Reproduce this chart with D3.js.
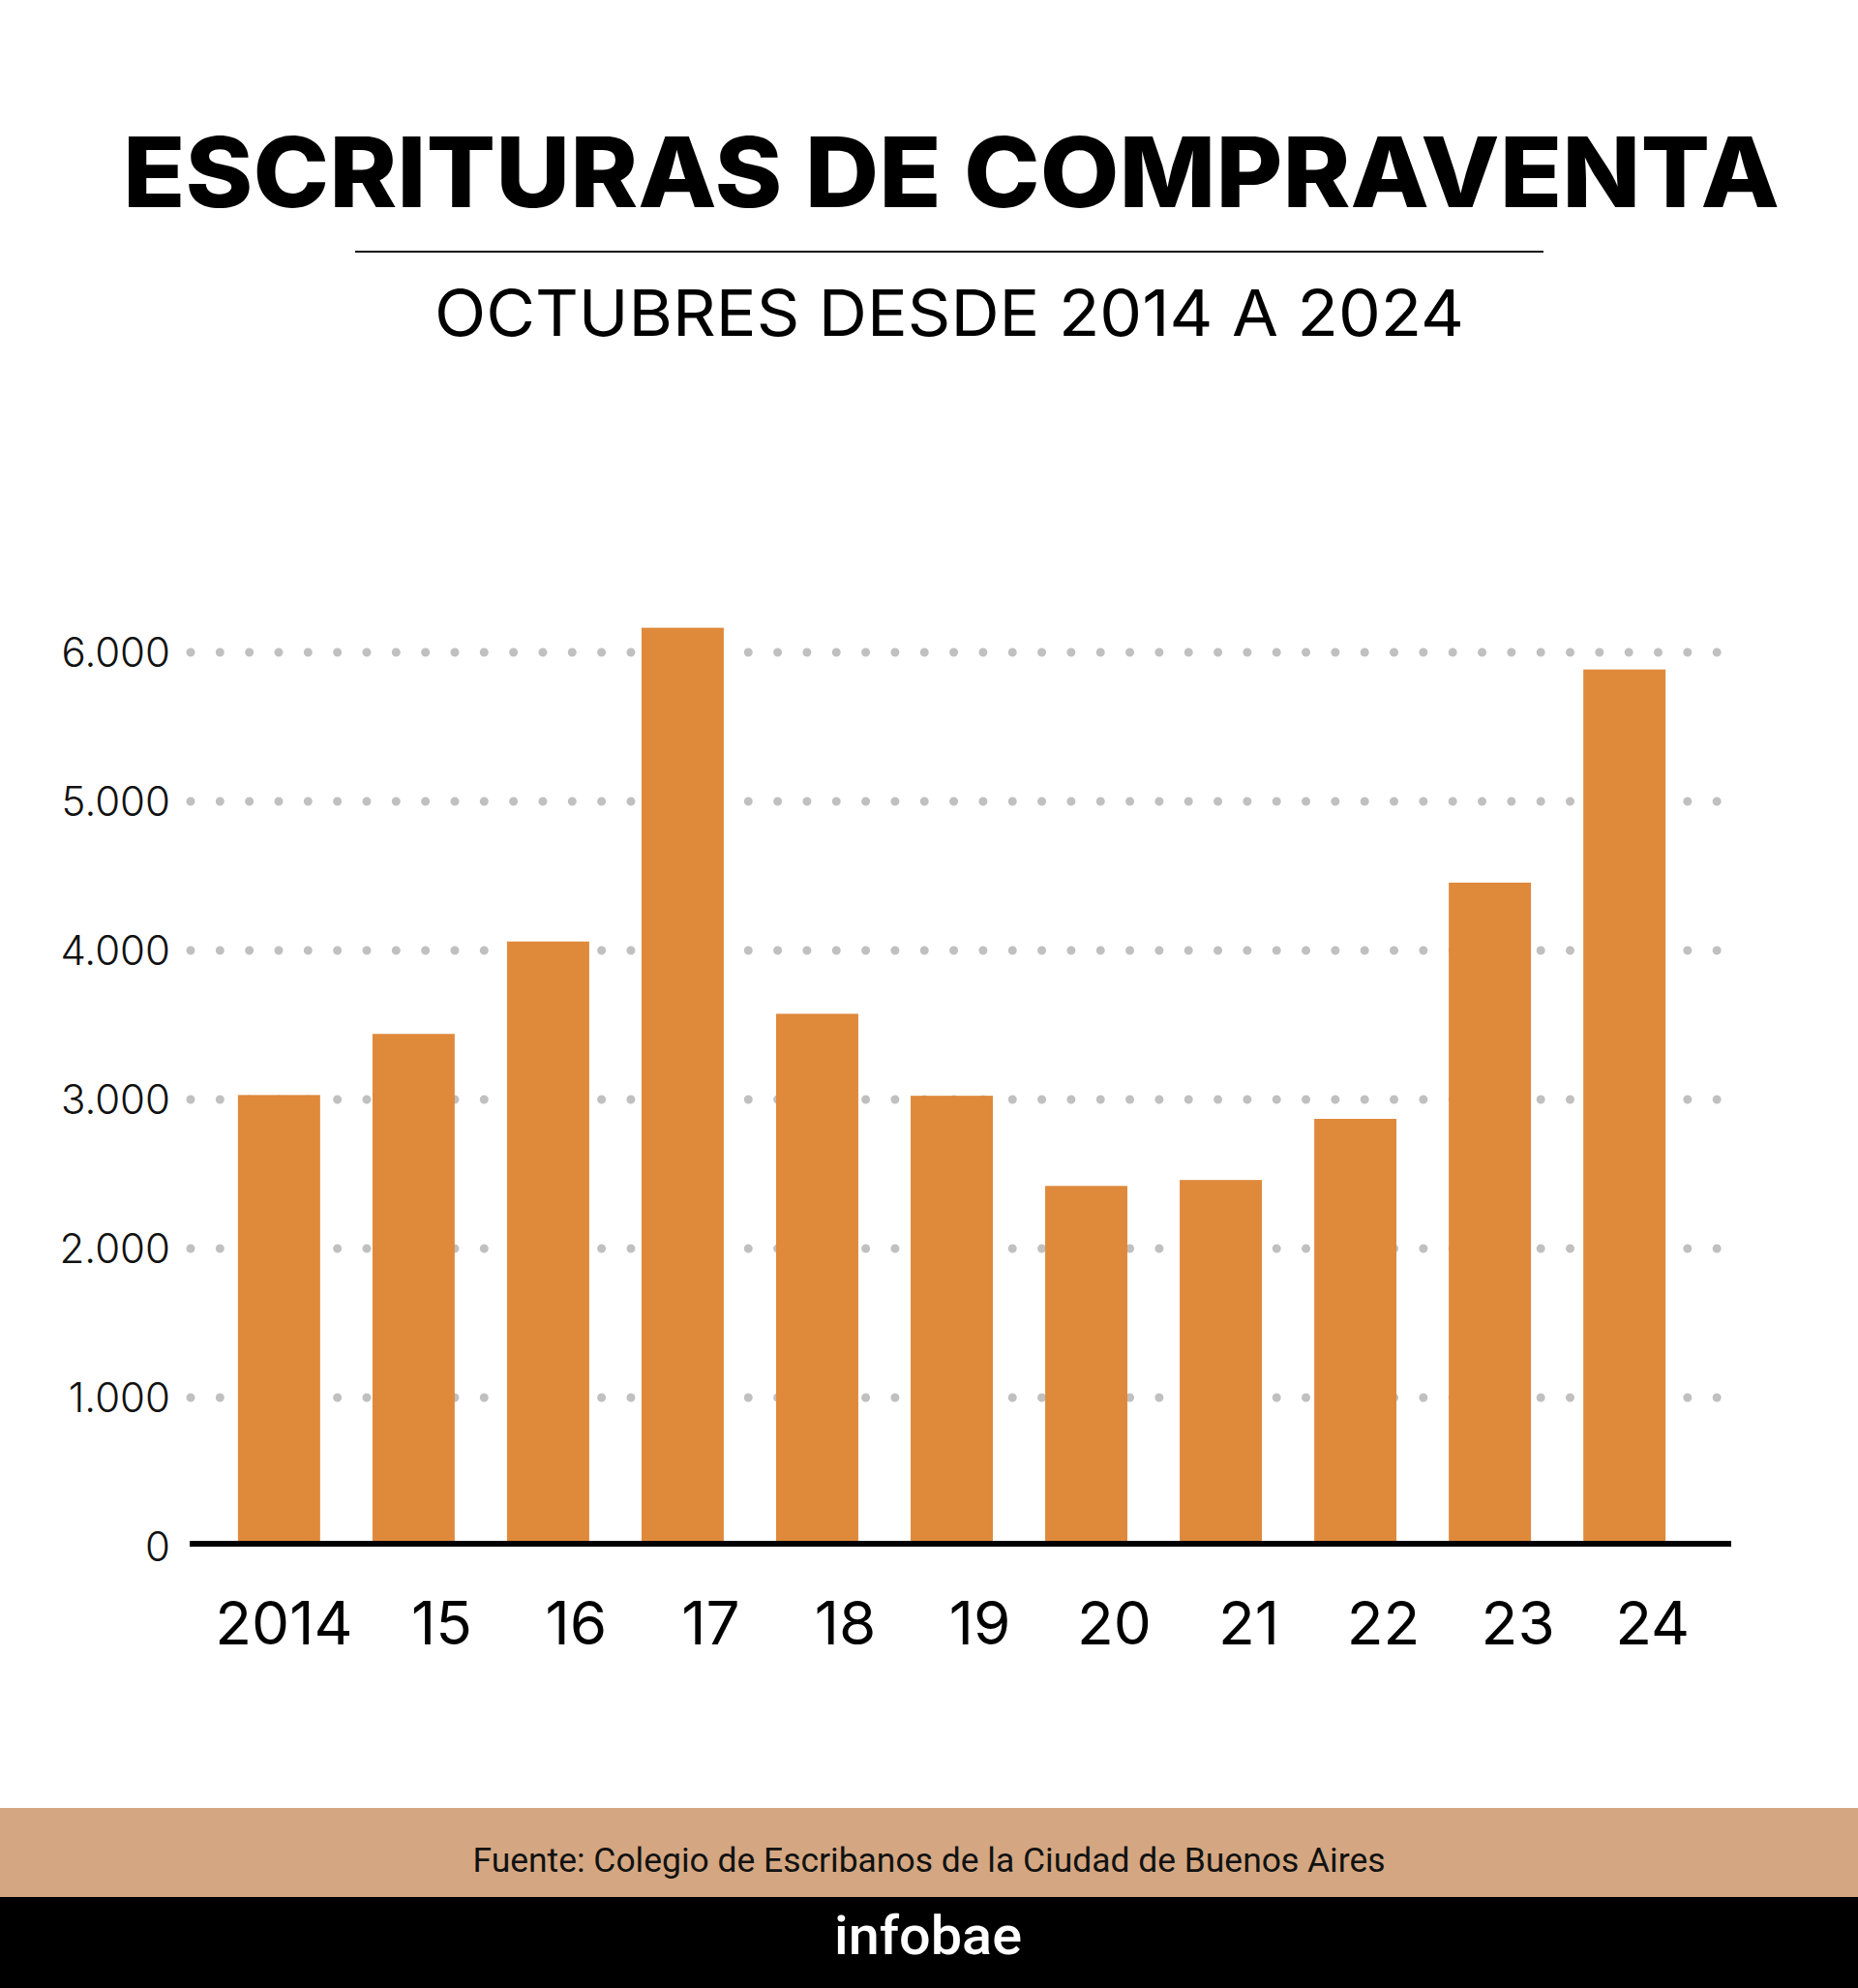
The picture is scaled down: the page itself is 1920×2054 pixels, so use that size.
<!DOCTYPE html>
<html>
<head>
<meta charset="utf-8">
<script src="https://cdn.jsdelivr.net/npm/d3@7"></script>
<style>
  html, body { margin: 0; padding: 0; background: #ffffff; }
  svg { display: block; }
</style>
</head>
<body>
<script>
// ---- data ----
const categories = ["2014", "15", "16", "17", "18", "19", "20", "21", "22", "23", "24"];
const values = [3030, 3440, 4060, 6165, 3575, 3025, 2420, 2460, 2870, 4455, 5885];
const yTicks = [0, 1000, 2000, 3000, 4000, 5000, 6000];
const yTickLabels = ["0", "1.000", "2.000", "3.000", "4.000", "5.000", "6.000"];
const title = "ESCRITURAS DE COMPRAVENTA";
const subtitle = "OCTUBRES DESDE 2014 A 2024";
const source = "Fuente: Colegio de Escribanos de la Ciudad de Buenos Aires";
const brand = "infobae";

// ---- layout ----
const W = 1920, H = 2054;
const svg = d3.select("body").append("svg").attr("width", W).attr("height", H);
svg.append("rect").attr("width", W).attr("height", H).attr("fill", "#ffffff");

// title
svg.append("text")
  .attr("x", 983).attr("y", 214)
  .attr("text-anchor", "middle")
  .attr("font-family", "Inter, 'Noto Sans', sans-serif")
  .attr("font-weight", 800)
  .attr("font-size", 100)
  .attr("textLength", 1712)
  .attr("lengthAdjust", "spacingAndGlyphs")
  .attr("fill", "#000")
  .text(title);

svg.append("line")
  .attr("x1", 367).attr("x2", 1595).attr("y1", 260).attr("y2", 260)
  .attr("stroke", "#111").attr("stroke-width", 2);

svg.append("text")
  .attr("x", 981).attr("y", 347)
  .attr("text-anchor", "middle")
  .attr("font-family", "Inter, 'Noto Sans', sans-serif")
  .attr("font-weight", 400)
  .attr("font-size", 66)
  .attr("textLength", 1064)
  .attr("lengthAdjust", "spacingAndGlyphs")
  .attr("fill", "#000")
  .text(subtitle);

// scales
const x = d3.scaleBand()
  .domain(categories)
  .range([200, 1767])
  .paddingInner(0.389)
  .paddingOuter(0.33);

const y = d3.scaleLinear().domain([0, 6000]).range([1598, 674]);

// dotted gridlines
const grid = svg.append("g");
grid.selectAll("line")
  .data(yTicks.filter(d => d > 0))
  .join("line")
  .attr("x1", 197).attr("x2", 1780)
  .attr("y1", d => y(d)).attr("y2", d => y(d))
  .attr("stroke", "#c0c0c0")
  .attr("stroke-width", 9)
  .attr("stroke-linecap", "round")
  .attr("stroke-dasharray", "0 30.33");

// y labels
const yAxis = d3.axisLeft(y)
  .tickValues(yTicks)
  .tickFormat((d, i) => yTickLabels[i])
  .tickSize(0)
  .tickPadding(0);
const yg = svg.append("g").attr("transform", "translate(176,0)").call(yAxis);
yg.select(".domain").remove();
yg.selectAll("text")
  .attr("font-family", "Inter, 'Noto Sans', sans-serif")
  .attr("font-weight", 300)
  .attr("font-size", 42)
  .attr("fill", "#111")
  .attr("dy", "0.35em");

// bars
svg.append("g").selectAll("rect")
  .data(values)
  .join("rect")
  .attr("x", (d, i) => x(categories[i]))
  .attr("width", x.bandwidth())
  .attr("y", d => y(d))
  .attr("height", d => y(0) - y(d))
  .attr("fill", "#df893b");

// baseline
svg.append("line")
  .attr("x1", 196).attr("x2", 1789)
  .attr("y1", 1595).attr("y2", 1595)
  .attr("stroke", "#000").attr("stroke-width", 6);

// x labels
const xAxis = d3.axisBottom(x).tickSize(0).tickPadding(0);
const xg = svg.append("g").attr("transform", "translate(0,1699)").call(xAxis);
xg.select(".domain").remove();
xg.selectAll(".tick")
  .attr("transform", (d, i) => `translate(${x(d) + x.bandwidth() / 2 + (i === 0 ? 5 : 29)},0)`);
xg.selectAll("text")
  .attr("dy", 0)
  .attr("font-family", "Inter, 'Noto Sans', sans-serif")
  .attr("font-weight", 400)
  .attr("font-size", 62)
  .attr("fill", "#000");

// footer
svg.append("rect").attr("x", 0).attr("y", 1868).attr("width", W).attr("height", 92).attr("fill", "#d4a782");
svg.append("rect").attr("x", 0).attr("y", 1960).attr("width", W).attr("height", 94).attr("fill", "#000");

svg.append("text")
  .attr("x", 960).attr("y", 1934)
  .attr("text-anchor", "middle")
  .attr("font-family", "Roboto, sans-serif")
  .attr("font-size", 35)
  .attr("textLength", 943)
  .attr("lengthAdjust", "spacingAndGlyphs")
  .attr("fill", "#111")
  .text(source);

svg.append("text")
  .attr("x", 959).attr("y", 2019)
  .attr("text-anchor", "middle")
  .attr("font-family", "Roboto, sans-serif")
  .attr("font-weight", 500)
  .attr("font-size", 56)
  .attr("textLength", 194)
  .attr("lengthAdjust", "spacingAndGlyphs")
  .attr("fill", "#fff")
  .text(brand);
</script>
</body>
</html>
